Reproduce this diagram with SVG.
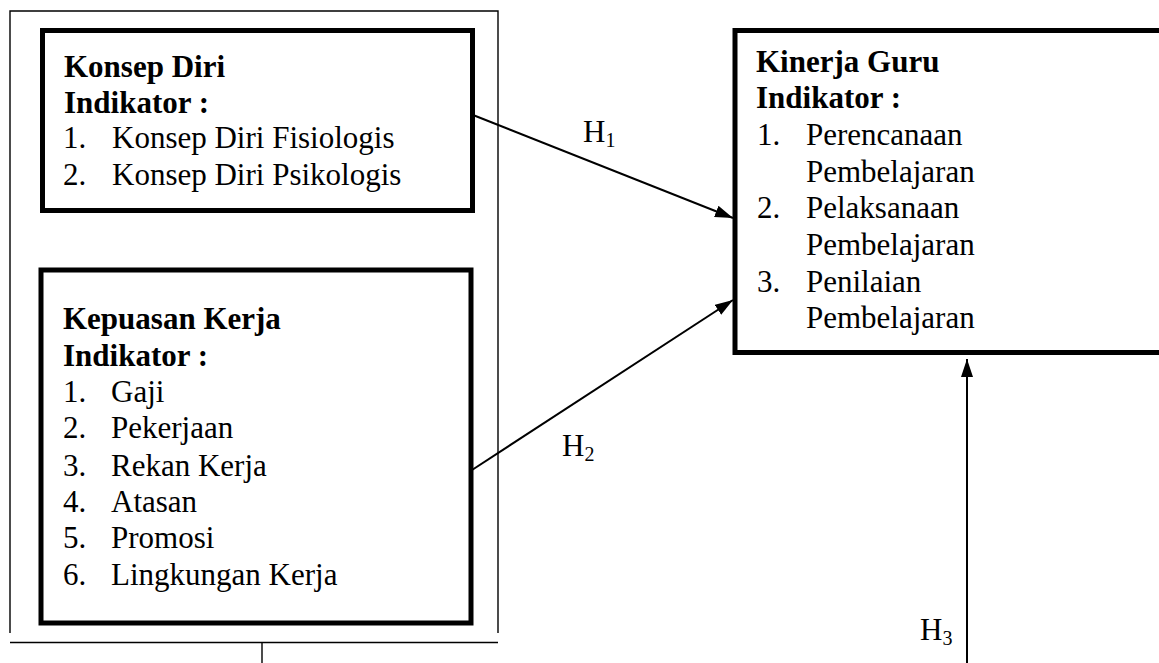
<svg xmlns="http://www.w3.org/2000/svg" width="1159" height="663" viewBox="0 0 1159 663">
<style>
text{font-family:"Liberation Serif","Times New Roman",serif;font-size:31px;fill:#000}
.b{font-weight:bold}
.sub{font-size:20px}
.box{fill:none;stroke:#000;stroke-width:5;stroke-linejoin:miter}
.thin{fill:none;stroke:#000;stroke-width:1.4}
.conn{fill:none;stroke:#000;stroke-width:2}
</style>
<defs>
<marker id="ah" viewBox="0 0 18 12" refX="18" refY="6" markerWidth="18" markerHeight="12" markerUnits="userSpaceOnUse" orient="auto">
<path d="M0,0 L18,6 L0,12 Z" fill="#000"/>
</marker>
</defs>
<rect width="1159" height="663" fill="#fff"/>
<g id="outer-frame">
<path class="thin" d="M10,633 V11 H498 V633"/>
<path class="thin" d="M10,642.5 H498 M262,642.5 V663"/>
</g>
<g id="konsep-diri">
<rect class="box" x="42.5" y="30.5" width="430" height="180"/>
<text class="b" x="64" y="77">Konsep Diri</text>
<text class="b" x="64" y="113">Indikator :</text>
<text x="63" y="148">1.</text><text x="112" y="148">Konsep Diri Fisiologis</text>
<text x="63" y="185">2.</text><text x="112" y="185">Konsep Diri Psikologis</text>
</g>
<g id="kepuasan-kerja">
<rect class="box" x="41" y="270" width="430" height="353"/>
<text class="b" x="63" y="329">Kepuasan Kerja</text>
<text class="b" x="63" y="366">Indikator :</text>
<text x="63" y="402">1.</text><text x="111" y="402">Gaji</text>
<text x="63" y="438">2.</text><text x="111" y="438">Pekerjaan</text>
<text x="63" y="476">3.</text><text x="111" y="476">Rekan Kerja</text>
<text x="63" y="512">4.</text><text x="111" y="512">Atasan</text>
<text x="63" y="548">5.</text><text x="111" y="548">Promosi</text>
<text x="63" y="585">6.</text><text x="111" y="585">Lingkungan Kerja</text>
</g>
<g id="kinerja-guru">
<rect class="box" x="735" y="30.5" width="440" height="322"/>
<text class="b" x="756" y="72">Kinerja Guru</text>
<text class="b" x="756" y="108">Indikator :</text>
<text x="757" y="145">1.</text><text x="806" y="145">Perencanaan</text>
<text x="806" y="182">Pembelajaran</text>
<text x="757" y="218">2.</text><text x="806" y="218">Pelaksanaan</text>
<text x="806" y="255">Pembelajaran</text>
<text x="757" y="292">3.</text><text x="806" y="292">Penilaian</text>
<text x="806" y="328">Pembelajaran</text>
</g>
<g id="connectors">
<line class="conn" x1="473" y1="115" x2="733" y2="218" marker-end="url(#ah)"/>
<line class="conn" x1="472" y1="470" x2="733" y2="300" marker-end="url(#ah)"/>
<line class="conn" x1="967" y1="663" x2="967" y2="359" marker-end="url(#ah)"/>
</g>
<g id="labels">
<text x="583" y="142">H<tspan class="sub" dy="5">1</tspan></text>
<text x="562" y="456">H<tspan class="sub" dy="5">2</tspan></text>
<text x="920" y="640">H<tspan class="sub" dy="5">3</tspan></text>
</g>
</svg>
